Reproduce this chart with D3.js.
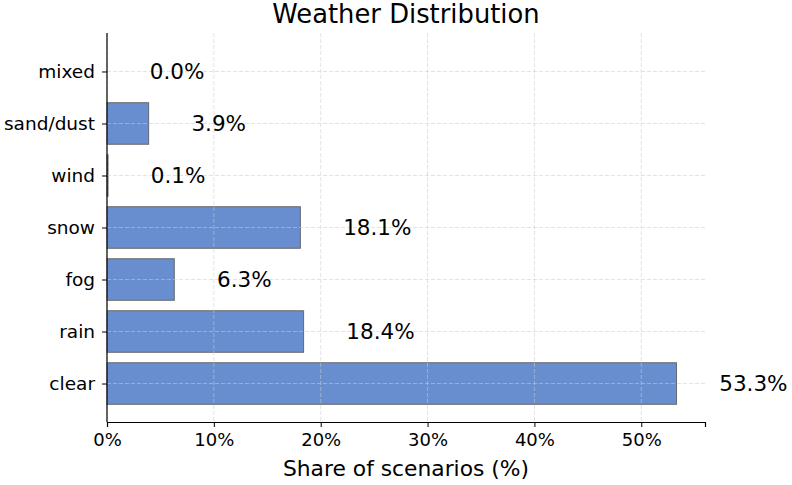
<!DOCTYPE html>
<html>
<head>
<meta charset="utf-8">
<script src="https://cdn.jsdelivr.net/npm/d3@7"></script>
<style>
  body { margin: 0; background: #fff; }
  svg { display: block; font-family: "DejaVu Sans", sans-serif; }
</style>
</head>
<body>
<svg id="chart" width="792" height="485"></svg>
<script>
// categories top to bottom
const categories = ['mixed', 'sand/dust', 'wind', 'snow', 'fog', 'rain', 'clear'];
const shares = [0.0, 3.9, 0.1, 18.1, 6.3, 18.4, 53.3];
const xTicks = [0, 10, 20, 30, 40, 50];

const width = 792, height = 485;
const margin = { top: 33, right: 87, bottom: 63, left: 107 };
const innerW = width - margin.left - margin.right;
const innerH = height - margin.top - margin.bottom;

const svg = d3.select('#chart');
const g = svg.append('g').attr('transform', `translate(${margin.left},${margin.top})`);

const maxVal = d3.max(shares);
const x = d3.scaleLinear().domain([0, maxVal * 1.05]).range([0, innerW]);

// matplotlib-ish band placement: index positions with 0.05 margins
const n = categories.length;
const y = d3.scaleLinear().domain([-0.74, n - 1 + 0.74]).range([0, innerH]);
const barH = y(0.4) - y(-0.4);

// bars
g.selectAll('.bar')
  .data(categories)
  .enter()
  .append('rect')
  .attr('class', 'bar')
  .attr('x', x(0))
  .attr('y', (d, i) => y(i) - barH / 2)
  .attr('width', (d, i) => x(shares[i]) - x(0))
  .attr('height', barH)
  .attr('fill', '#688ed0')
  .attr('stroke', '#555')
  .attr('stroke-opacity', 0.8)
  .attr('stroke-width', 1);

// grid on top, light dashed
const grid = g.append('g').attr('class', 'grid');
grid.selectAll('.vg')
  .data(xTicks)
  .enter()
  .append('line')
  .attr('x1', d => x(d)).attr('x2', d => x(d))
  .attr('y1', 0).attr('y2', innerH)
  .attr('stroke', '#ccc').attr('stroke-opacity', 0.55)
  .attr('stroke-dasharray', '4,2');
grid.selectAll('.hg')
  .data(categories)
  .enter()
  .append('line')
  .attr('x1', 0).attr('x2', innerW)
  .attr('y1', (d, i) => y(i)).attr('y2', (d, i) => y(i))
  .attr('stroke', '#ccc').attr('stroke-opacity', 0.55)
  .attr('stroke-dasharray', '4,2');

// value labels
g.selectAll('.val')
  .data(categories)
  .enter()
  .append('text')
  .attr('x', (d, i) => x(shares[i] + 4))
  .attr('y', (d, i) => y(i))
  .attr('dy', '0.35em')
  .attr('font-size', '21.5px')
  .attr('fill', '#000')
  .text((d, i) => `${shares[i].toFixed(1)}%`);

// axes
const xAxis = d3.axisBottom(x).tickValues(xTicks).tickFormat(d => `${d}%`).tickSize(5).tickPadding(6);
const xg = g.append('g')
  .attr('transform', `translate(0,${innerH})`)
  .call(xAxis);
xg.select('.domain').attr('stroke', '#000').attr('stroke-width', 1.2);
xg.selectAll('text').attr('font-size', '18px').attr('fill', '#000').style('font-family', '"DejaVu Sans", sans-serif');

const yAxis = d3.axisLeft(y).tickValues(d3.range(n)).tickFormat(i => categories[i]).tickSize(5).tickPadding(7);
const yg = g.append('g').call(yAxis);
yg.select('.domain').attr('d', `M0,0V${innerH}`).attr('stroke', '#000').attr('stroke-width', 1.2);
yg.selectAll('text').attr('font-size', '18.5px').attr('fill', '#000').style('font-family', '"DejaVu Sans", sans-serif');

// axis label
svg.append('text')
  .attr('x', margin.left + innerW / 2)
  .attr('y', 476)
  .attr('text-anchor', 'middle')
  .attr('font-size', '21.8px')
  .text('Share of scenarios (%)');

// title
svg.append('text')
  .attr('x', margin.left + innerW / 2)
  .attr('y', 23)
  .attr('text-anchor', 'middle')
  .attr('font-size', '25.8px')
  .text('Weather Distribution');
</script>
</body>
</html>
